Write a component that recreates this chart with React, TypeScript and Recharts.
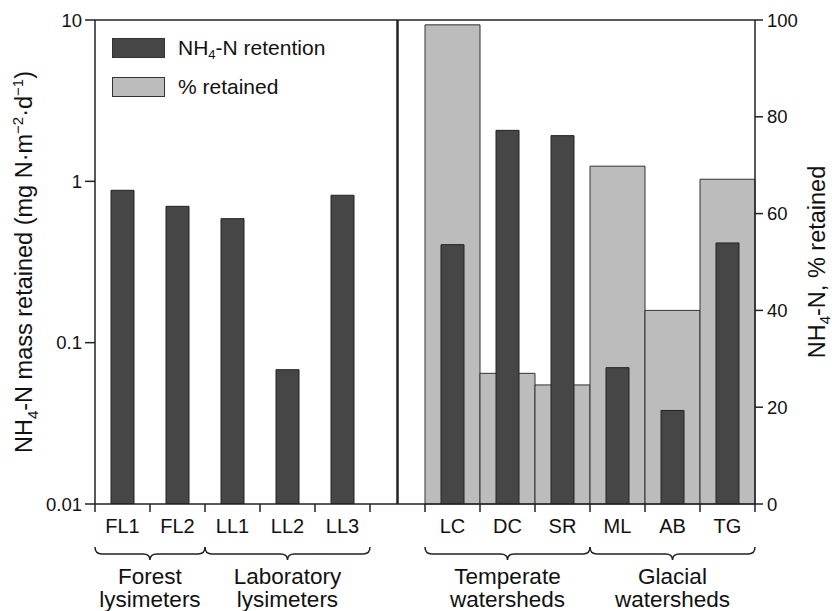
import React from 'react';
import { ComposedChart, Bar, XAxis, YAxis, ReferenceLine, ReferenceArea, Legend } from 'recharts';

const categories = ['FL1', 'FL2', 'LL1', 'LL2', 'LL3', ' ', 'LC', 'DC', 'SR', 'ML', 'AB', 'TG'];
const massRetained = [0.88, 0.7, 0.587, 0.068, 0.82, null, 0.405, 2.07, 1.92, 0.07, 0.038, 0.415];
const pctRetained = [null, null, null, null, null, null, 99, 27, 24.6, 69.8, 40, 67.1];
const leftTicks = [0.01, 0.1, 1, 10];
const rightTicks = [0, 20, 40, 60, 80, 100];
const groupLines = [
  ['Forest', 'lysimeters'],
  ['Laboratory', 'lysimeters'],
  ['Temperate', 'watersheds'],
  ['Glacial', 'watersheds'],
];
const groupFirst = ['FL1', 'LL1', 'LC', 'ML'];
const groupLast = ['FL2', 'LL3', 'SR', 'TG'];
const separatorAt = ' ';
const massName = 'NH4-N retention';
const pctName = '% retained';
const seriesOrder = [massName, pctName];

const data = categories.map((name, i) => ({ name, mass: massRetained[i], pct: pctRetained[i] }));

const FONT = '"Liberation Sans", Arial, Helvetica, sans-serif';
const INK = '#111';
const AXIS = '#222';
const X_TICK_LEN = 8;
const X_TICK_GAP = 7;

const chem = (name: string) => {
  const idx = name.indexOf('NH4');
  if (idx < 0) return name;
  return (
    <>
      {name.slice(0, idx)}NH
      <sub style={{ fontSize: '0.62em', verticalAlign: '-0.3em', lineHeight: 0 }}>4</sub>
      {name.slice(idx + 3)}
    </>
  );
};

const renderLegend = (props: any) => {
  const items = [...(props.payload || [])].sort(
    (a: any, b: any) => seriesOrder.indexOf(a.value) - seriesOrder.indexOf(b.value)
  );
  return (
    <div style={{ fontFamily: FONT, fontSize: 21, color: INK }}>
      {items.map((it: any, i: number) => (
        <div key={i} style={{ display: 'flex', alignItems: 'center', height: 20, marginBottom: 19 }}>
          <div
            style={{
              width: 53,
              height: 20,
              boxSizing: 'border-box',
              background: it.color,
              border: '1.5px solid #333',
              marginRight: 13,
            }}
          />
          <span style={{ whiteSpace: 'nowrap' }}>{chem(String(it.value))}</span>
        </div>
      ))}
    </div>
  );
};

const CatTick = (props: any) => {
  const { x, y, payload, index, visibleTicksCount } = props;
  const half = payload && payload.offset ? payload.offset : 0;
  const axisY = y - X_TICK_LEN - X_TICK_GAP;
  const isLast = index === visibleTicksCount - 1;
  return (
    <g>
      <line x1={x - half} x2={x - half} y1={axisY} y2={axisY + X_TICK_LEN} stroke={AXIS} strokeWidth={1.5} />
      {isLast && (
        <line x1={x + half} x2={x + half} y1={axisY} y2={axisY + X_TICK_LEN} stroke={AXIS} strokeWidth={1.5} />
      )}
      <text x={x} y={y} dy="0.71em" textAnchor="middle" fontFamily={FONT} fontSize={20} fill={INK}>
        {payload.value}
      </text>
    </g>
  );
};

const LeftLabel = (props: any) => {
  const vb = props.viewBox || {};
  const x = vb.x + 22;
  const y = vb.y + vb.height / 2;
  return (
    <text
      x={x}
      y={y}
      transform={`rotate(-90 ${x} ${y})`}
      textAnchor="middle"
      fontFamily={FONT}
      fontSize={23.5}
      fill={INK}
    >
      NH<tspan dy={6} fontSize={15}>4</tspan>
      <tspan dy={-6}>-N mass retained (mg N·m</tspan>
      <tspan dy={-9} fontSize={15}>−2</tspan>
      <tspan dy={9}>·d</tspan>
      <tspan dy={-9} fontSize={15}>−1</tspan>
      <tspan dy={9}>)</tspan>
    </text>
  );
};

const RightLabel = (props: any) => {
  const vb = props.viewBox || {};
  const x = vb.x + 70;
  const y = vb.y + vb.height / 2;
  return (
    <text
      x={x}
      y={y}
      transform={`rotate(-90 ${x} ${y})`}
      textAnchor="middle"
      fontFamily={FONT}
      fontSize={23.5}
      fill={INK}
    >
      NH<tspan dy={5} fontSize={15}>4</tspan>
      <tspan dy={-5}>-N, % retained</tspan>
    </text>
  );
};

const makeBrace = (lines: string[]) => (p: any) => {
  const x0 = p.x;
  const x1 = p.x + p.width;
  const cx = (x0 + x1) / 2;
  const yb = p.y + p.height;
  const top = yb + 43;
  const mid = yb + 50;
  const bot = yb + 56;
  const r = 7;
  const d = `M ${x0} ${top} Q ${x0} ${mid} ${x0 + r} ${mid} L ${cx - r} ${mid} Q ${cx} ${mid} ${cx} ${bot} Q ${cx} ${mid} ${cx + r} ${mid} L ${x1 - r} ${mid} Q ${x1} ${mid} ${x1} ${top}`;
  return (
    <g>
      <path d={d} fill="none" stroke={AXIS} strokeWidth={1.5} />
      <text x={cx} y={yb + 80} textAnchor="middle" fontFamily={FONT} fontSize={22.5} fill={INK}>
        {lines[0]}
      </text>
      <text x={cx} y={yb + 103} textAnchor="middle" fontFamily={FONT} fontSize={22.5} fill={INK}>
        {lines[1]}
      </text>
    </g>
  );
};

export default function App() {
  return (
    <div style={{ position: 'absolute', left: 0, top: 0, width: 832, height: 611, background: '#fff' }}>
      <ComposedChart
        width={832}
        height={611}
        data={data}
        margin={{ top: 20, right: 7, bottom: 67, left: 10 }}
        barCategoryGap={0}
        barGap={0}
      >
        <XAxis
          xAxisId="cat"
          dataKey="name"
          interval={0}
          axisLine={{ stroke: AXIS, strokeWidth: 1.5 }}
          tickLine={false}
          tickSize={X_TICK_LEN}
          tickMargin={X_TICK_GAP}
          height={40}
          tick={<CatTick />}
        />
        <XAxis xAxisId="gray" dataKey="name" hide height={0} />
        <YAxis
          yAxisId="left"
          scale="log"
          domain={[0.01, 10]}
          ticks={leftTicks}
          interval={0}
          allowDataOverflow
          width={85}
          tickSize={10}
          tickMargin={3}
          axisLine={{ stroke: AXIS, strokeWidth: 1.5 }}
          tickLine={{ stroke: AXIS, strokeWidth: 1.5 }}
          tick={{ fontSize: 18.5, fill: INK, fontFamily: FONT }}
          label={<LeftLabel />}
        />
        <YAxis
          yAxisId="right"
          orientation="right"
          domain={[0, 100]}
          ticks={rightTicks}
          interval={0}
          width={70}
          tickSize={8}
          tickMargin={4}
          axisLine={{ stroke: AXIS, strokeWidth: 1.5 }}
          tickLine={{ stroke: AXIS, strokeWidth: 1.5 }}
          tick={{ fontSize: 18.5, fill: INK, fontFamily: FONT }}
          label={<RightLabel />}
        />
        <Legend
          layout="vertical"
          align="center"
          verticalAlign="middle"
          content={renderLegend}
          wrapperStyle={{ left: 112, top: 38, width: 320, height: 'auto' }}
        />
        <Bar
          xAxisId="gray"
          yAxisId="right"
          dataKey="pct"
          name={pctName}
          fill="#bcbcbc"
          stroke="#333"
          strokeWidth={1}
          isAnimationActive={false}
        />
        <Bar
          xAxisId="cat"
          yAxisId="left"
          dataKey="mass"
          name={massName}
          barSize={23}
          fill="#464646"
          stroke="#222"
          strokeWidth={1}
          isAnimationActive={false}
        />
        <ReferenceLine xAxisId="cat" yAxisId="left" y={10} stroke={AXIS} strokeWidth={1.5} />
        <ReferenceLine xAxisId="cat" yAxisId="left" x={separatorAt} stroke={AXIS} strokeWidth={2.5} />
        {groupLines.map((lines, i) => (
          <ReferenceArea
            key={i}
            xAxisId="cat"
            yAxisId="left"
            x1={groupFirst[i]}
            x2={groupLast[i]}
            y1={0.01}
            y2={10}
            ifOverflow="visible"
            shape={makeBrace(lines)}
          />
        ))}
      </ComposedChart>
    </div>
  );
}
